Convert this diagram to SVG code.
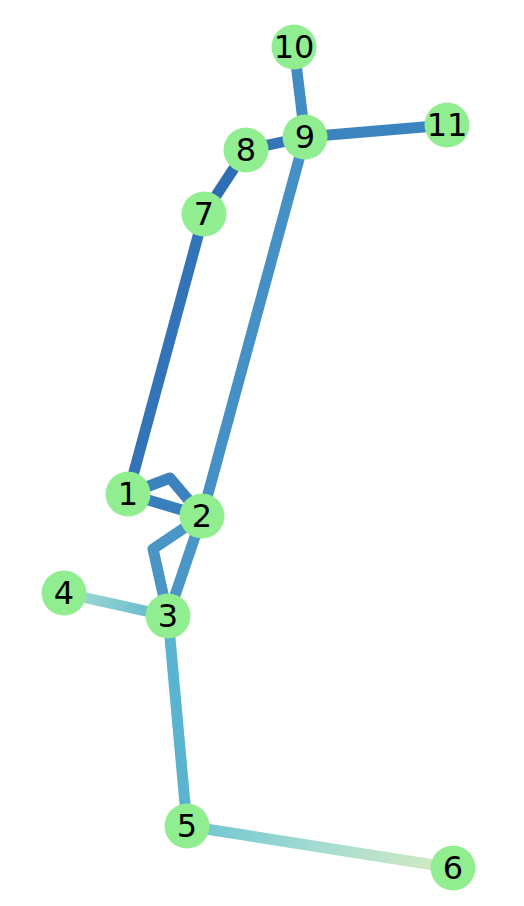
<svg xmlns="http://www.w3.org/2000/svg" width="524" height="906" viewBox="0 0 524 906">
<style>
.e{fill:none;stroke-width:11;stroke-linecap:butt;stroke-linejoin:round}
.n circle{fill:#90ee90}
.n text{font-family:"DejaVu Sans",sans-serif;font-size:32px;text-anchor:middle;dominant-baseline:central;fill:#000}
</style>
<defs>
<linearGradient id="g43" gradientUnits="userSpaceOnUse" x1="64" y1="593" x2="168" y2="616">
<stop offset="0" stop-color="#a6dcd2"/><stop offset="1" stop-color="#5fb6cf"/>
</linearGradient>
<linearGradient id="g56" gradientUnits="userSpaceOnUse" x1="187" y1="826" x2="453" y2="868">
<stop offset="0" stop-color="#6cc4d0"/><stop offset="0.5" stop-color="#a4dcd2"/><stop offset="1" stop-color="#d6ecc0"/>
</linearGradient>
</defs>
<rect width="524" height="906" fill="#fff"/>
<g id="edges">
<line class="e" x1="128" y1="494" x2="204" y2="214" stroke="#3373b8"/>
<line class="e" x1="204" y1="214" x2="246" y2="150" stroke="#2f6db5"/>
<line class="e" x1="246" y1="150" x2="305" y2="137" stroke="#3574b8"/>
<line class="e" x1="305" y1="137" x2="294" y2="47" stroke="#418cc2"/>
<line class="e" x1="305" y1="137" x2="447" y2="125" stroke="#3b84bf"/>
<line class="e" x1="305" y1="137" x2="202" y2="516" stroke="#4590c4"/>
<line class="e" x1="202" y1="516" x2="168" y2="616" stroke="#4a96c6"/>
<line class="e" x1="128" y1="494" x2="202" y2="516" stroke="#3a7fbd"/>
<polyline class="e" points="128,494 170,478 202,516" stroke="#3c82be"/>
<polyline class="e" points="202,516 153,549 168,616" stroke="#4a94c6"/>
<line class="e" x1="64" y1="593" x2="168" y2="616" stroke="url(#g43)"/>
<line class="e" x1="168" y1="616" x2="187" y2="826" stroke="#5ab4d0"/>
<line class="e" x1="187" y1="826" x2="453" y2="868" stroke="url(#g56)"/>
</g>
<g id="n1" class="n"><circle cx="128" cy="494" r="22.5"/><text x="128" y="494">1</text></g>
<g id="n2" class="n"><circle cx="202" cy="516" r="22.5"/><text x="202" y="516">2</text></g>
<g id="n3" class="n"><circle cx="168" cy="616" r="22.5"/><text x="168" y="616">3</text></g>
<g id="n4" class="n"><circle cx="64" cy="593" r="22.5"/><text x="64" y="593">4</text></g>
<g id="n5" class="n"><circle cx="187" cy="826" r="22.5"/><text x="187" y="826">5</text></g>
<g id="n6" class="n"><circle cx="453" cy="868" r="22.5"/><text x="453" y="868">6</text></g>
<g id="n7" class="n"><circle cx="204" cy="214" r="22.5"/><text x="204" y="214">7</text></g>
<g id="n8" class="n"><circle cx="246" cy="150" r="22.5"/><text x="246" y="150">8</text></g>
<g id="n9" class="n"><circle cx="305" cy="137" r="22.5"/><text x="305" y="137">9</text></g>
<g id="n10" class="n"><circle cx="294" cy="47" r="22.5"/><text x="294" y="47">10</text></g>
<g id="n11" class="n"><circle cx="447" cy="125" r="22.5"/><text x="447" y="125">11</text></g>
</svg>
